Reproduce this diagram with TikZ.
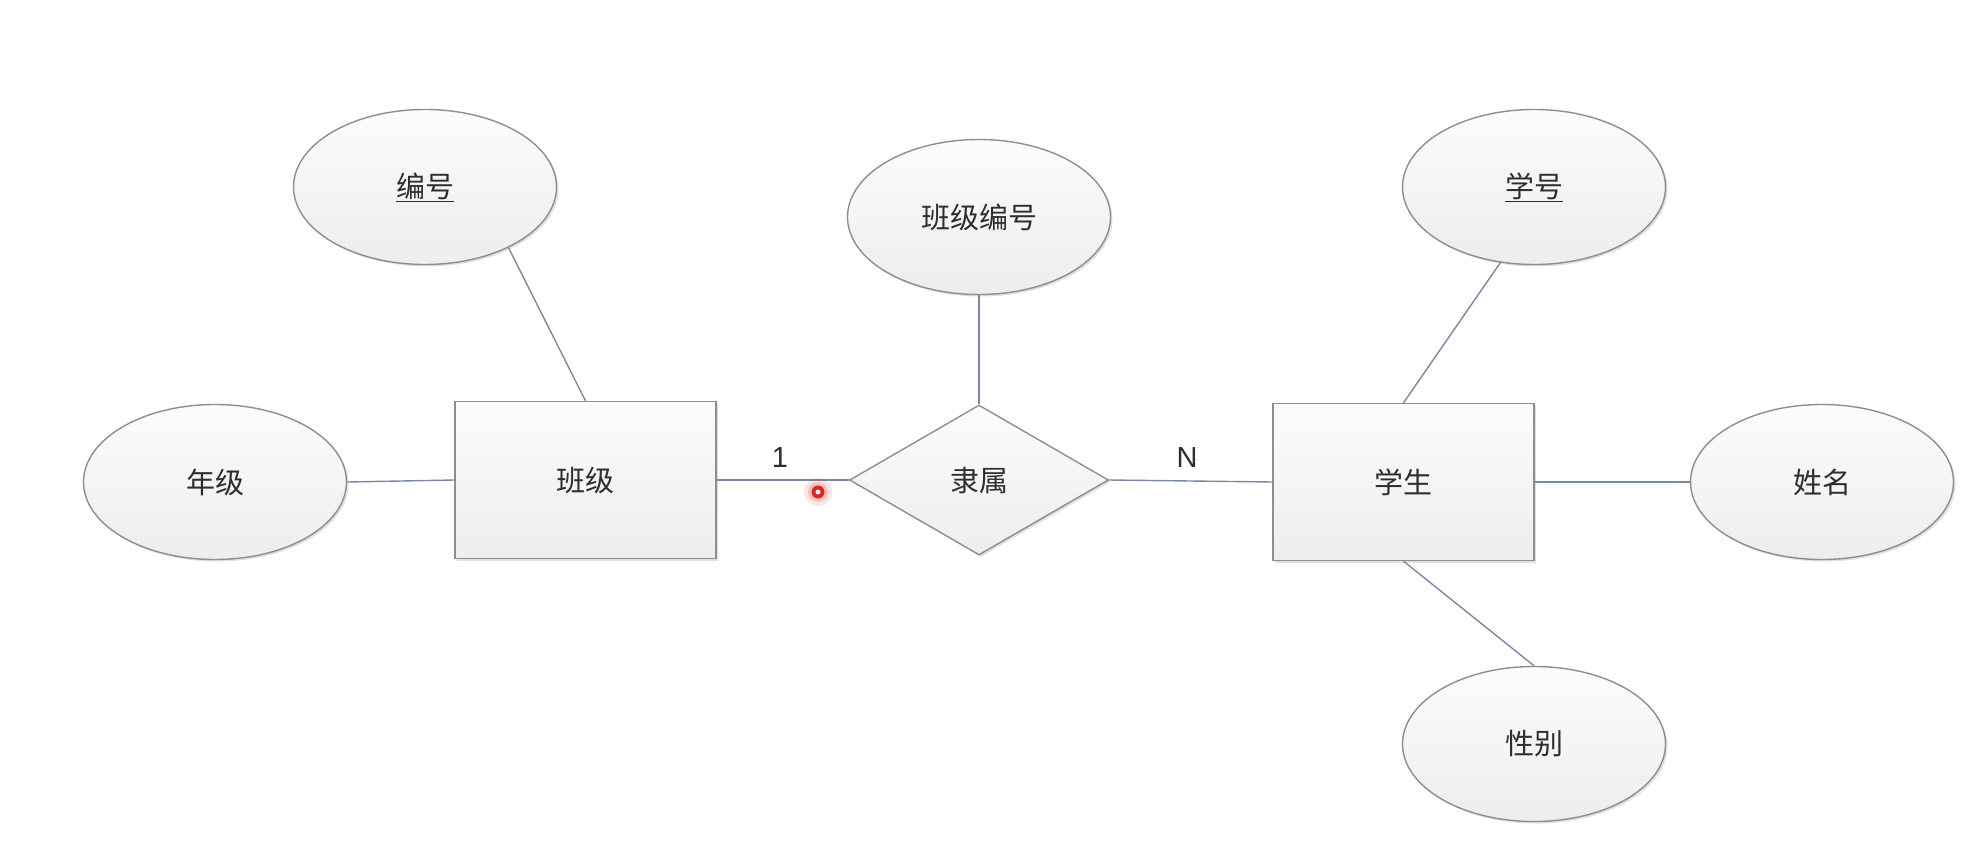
\documentclass[tikz,border=0pt]{standalone}
\usepackage{fontspec}
\setmainfont{Noto Sans CJK SC}
\newfontfamily\latinfont{Liberation Sans}
\usetikzlibrary{shapes.geometric,shadows}
\definecolor{edgegray}{HTML}{8E8E8E}
\definecolor{linkblue}{HTML}{7A88A6}
\definecolor{txtgray}{HTML}{2E2E2E}
\definecolor{fillTop}{HTML}{FCFCFC}
\definecolor{fillBot}{HTML}{EDEDED}
\definecolor{cursorred}{HTML}{E02424}
\tikzset{
  base/.style={draw=edgegray, line width=1.4pt, top color=fillTop, bottom color=fillBot,
    text=txtgray, font=\fontsize{29}{32}\selectfont, inner sep=0pt,
    drop shadow={shadow xshift=2pt, shadow yshift=-2pt, opacity=0.12, fill=black}},
  attr/.style={base, ellipse, minimum width=263pt, minimum height=155pt},
  entity/.style={base, rectangle, minimum width=261pt, minimum height=157pt},
  rel/.style={base, diamond, minimum width=259pt, minimum height=150pt},
  link/.style={draw=linkblue, line width=1.4pt},
  card/.style={text=txtgray, font=\latinfont\fontsize{29}{32}\selectfont, inner sep=0pt}
}
\begin{document}
\begin{tikzpicture}[x=1pt,y=-1pt]
\useasboundingbox[fill=white] (0,0) rectangle (1980,864);
% nodes
\node[attr] (bh) at (425,187) {\underline{编号}};
\node[attr] (nj) at (215,482) {年级};
\node[entity] (bj) at (585.5,480) {班级};
\node[attr] (bjbh) at (979,217) {班级编号};
\node[rel] (ls) at (979,480) {隶属};
\node[entity] (xs) at (1403.5,482) {学生};
\node[attr] (xh) at (1534,187) {\underline{学号}};
\node[attr] (xm) at (1822,482) {姓名};
\node[attr] (xb) at (1534,744) {性别};
% connectors
\draw[link] (bh.-36) -- (bj.north);
\draw[link] (nj.east) -- (bj.west);
\draw[link] (bj.east) -- (ls.west);
\draw[link] (bjbh.south) -- (ls.north);
\draw[link] (ls.east) -- (xs.west);
\draw[link] (xh.-114) -- (xs.north);
\draw[link] (xs.east) -- (xm.west);
\draw[link] (xs.south) -- (xb.north);
% cardinalities
\node[card] (c1) at (780,458) {1};
\node[card] (cn) at (1187,458) {N};
% cursor marker
\fill[cursorred, opacity=0.12] (818,492) circle (14);
\fill[cursorred, opacity=0.18] (818,492) circle (10);
\fill[cursorred] (818,492) circle (6.5);
\fill[white] (818,492) circle (2.5);
\end{tikzpicture}
\end{document}
